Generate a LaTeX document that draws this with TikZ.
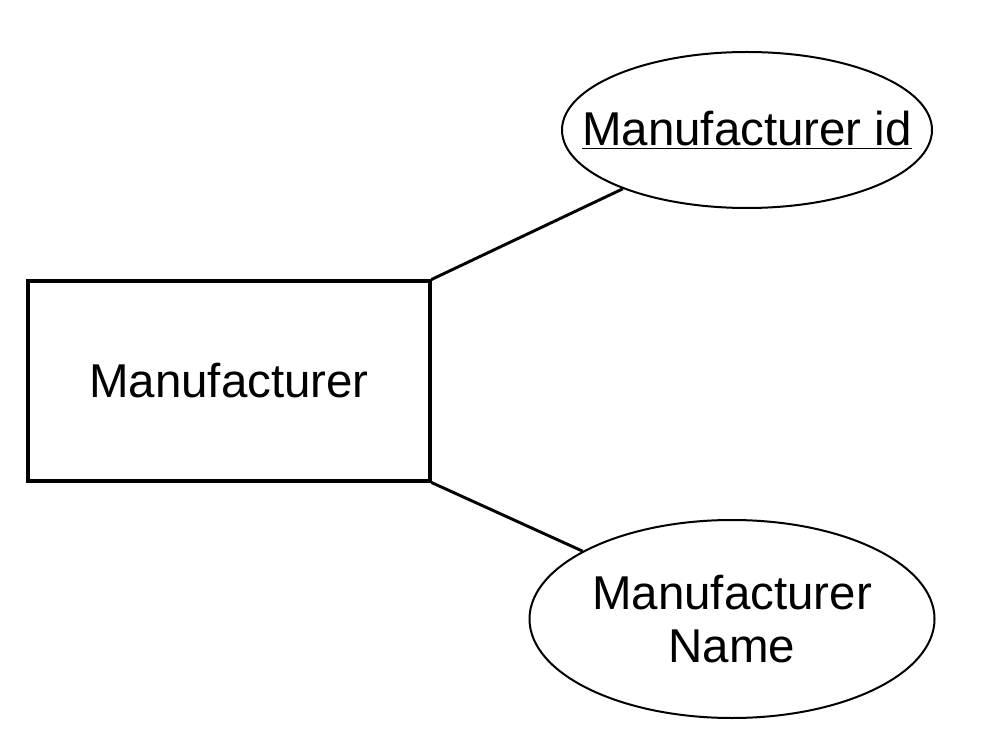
\documentclass[tikz,border=0pt]{standalone}
\usepackage{fontspec}
\setmainfont{Liberation Sans}
\usetikzlibrary{shapes.geometric}
\definecolor{erInk}{HTML}{000000}
\definecolor{erFill}{HTML}{FFFFFF}
\tikzset{
  er/base/.style={draw=erInk, fill=erFill, align=center, inner sep=0pt,
    font=\fontsize{35.6}{39.8}\selectfont},
  er/entity/.style={er/base, rectangle, line width=2.3pt,
    minimum width=301.5pt, minimum height=150pt},
  er/attribute/.style={er/base, ellipse, line width=1.5pt},
  er/link/.style={draw=erInk, line width=2.2pt},
}
\begin{document}
\begin{tikzpicture}[x=0.75pt, y=-0.75pt]
\useasboundingbox (0,0) rectangle (992,748);
\node[er/entity] (maker) at (229,381) {Manufacturer};
% key attribute: text is wider than the ellipse allows, so pull it in
\node[er/attribute, inner xsep=-28pt, minimum width=277.5pt,
  minimum height=117pt] (makerId)
  at (747,130) {\underline{Manufacturer id}};
\node[er/attribute, minimum width=303.75pt, minimum height=148.5pt] (makerName)
  at (732,619) {Manufacturer\\Name};

\draw[er/link] (maker.north east) -- (makerId);
\draw[er/link] (maker.south east) -- (makerName);
\end{tikzpicture}
\end{document}
